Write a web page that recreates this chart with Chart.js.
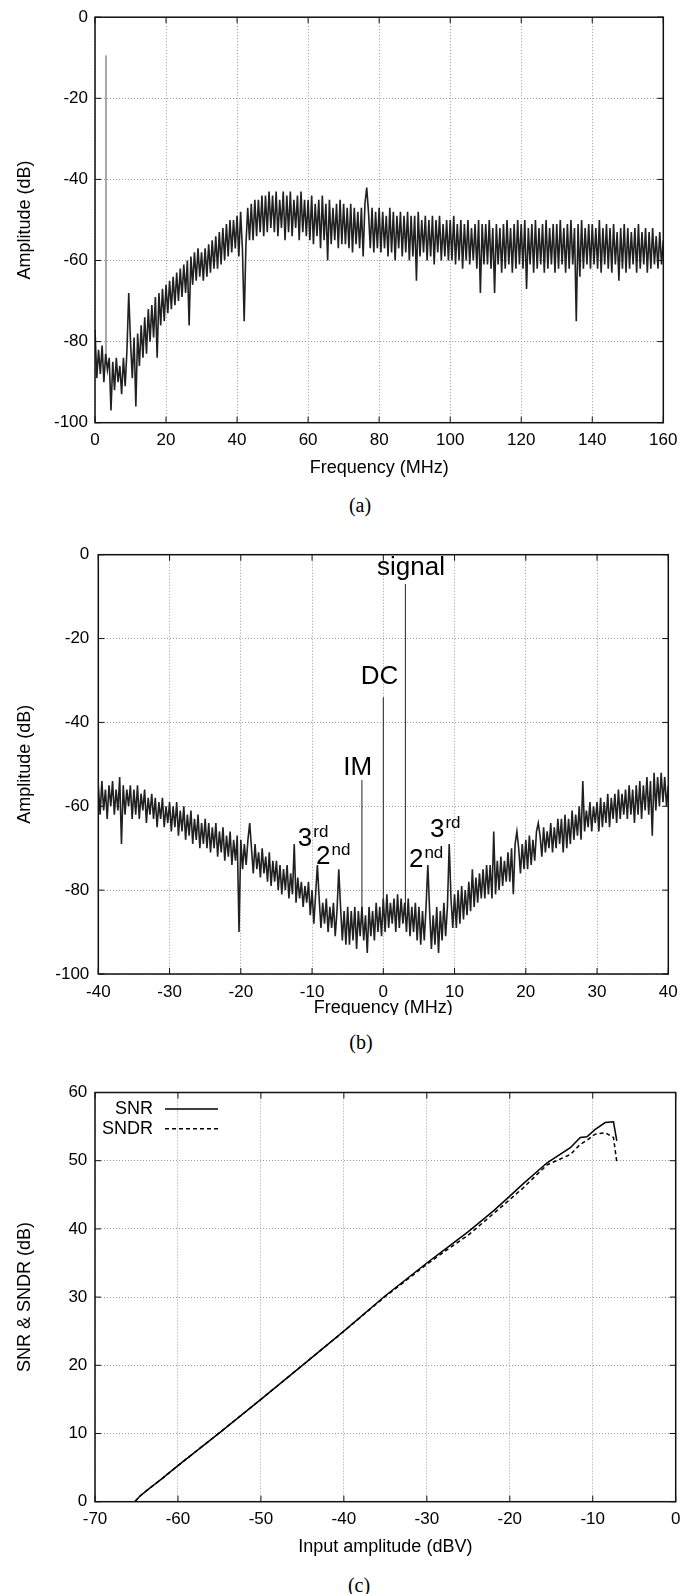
<!DOCTYPE html>
<html>
<head>
<meta charset="utf-8">
<script src="https://cdn.jsdelivr.net/npm/chart.js"></script>
<style>
  body { margin: 0; background: #fff; width: 700px; height: 1594px; position: relative; overflow: hidden; }
  .panel { position: absolute; left: 0; width: 700px; overflow: hidden; }
  .panel canvas { display: block; }
  .cap { position: absolute; font-family: "Liberation Serif", "Times New Roman", serif; font-size: 20px; line-height: 20px; color: #000; transform: translateX(-50%); }
</style>
</head>
<body>
<div class="panel" style="top:0;height:482px"><canvas id="chartA" width="700" height="482"></canvas></div>
<div class="cap" style="left:360px;top:495px">(a)</div>
<div class="panel" style="top:510px;height:505px"><canvas id="chartB" width="700" height="530"></canvas></div>
<div class="cap" style="left:361px;top:1032px">(b)</div>
<div class="panel" style="top:1055px;height:510px"><canvas id="chartC" width="700" height="510"></canvas></div>
<div class="cap" style="left:359px;top:1575px">(c)</div>
<script>
// (a) output spectrum 0-160 MHz, one reading every 0.5 MHz
const specAStart = 0;
const specAStep = 0.5;
const specA = [
  -77, -89, -82, -88, -81, -90, -83, -87, -84, -97, -85, -92, -84, -90, -86, -93, -84, -91, -82, -68,
  -80, -89, -79, -96, -78, -86, -76, -84, -74, -83, -72, -80, -71, -79, -69, -84, -68, -76, -67, -75,
  -66, -73, -65, -72, -64, -71, -63, -70, -62, -69, -61, -68, -60, -76, -59, -66, -58, -65, -57, -64,
  -58, -65, -57, -64, -56, -63, -55, -62, -54, -62, -53, -61, -52, -60, -51, -59, -50, -58, -50, -57,
  -49, -59, -48, -57, -75, -56, -47, -55, -46, -55, -45, -54, -45, -53, -44, -54, -44, -53, -43, -52,
  -44, -53, -43, -54, -45, -52, -43, -55, -44, -53, -43, -54, -45, -52, -44, -55, -43, -53, -45, -54,
  -45, -55, -44, -56, -46, -54, -45, -57, -44, -55, -46, -60, -45, -56, -47, -55, -46, -57, -45, -56,
  -46, -56, -47, -57, -46, -58, -47, -56, -48, -57, -47, -59, -46, -42, -48, -57, -47, -58, -48, -57,
  -47, -58, -48, -57, -49, -59, -47, -58, -48, -60, -49, -57, -48, -59, -49, -58, -48, -60, -49, -59,
  -49, -65, -48, -59, -50, -58, -49, -60, -50, -59, -49, -61, -50, -58, -49, -60, -51, -59, -50, -60,
  -50, -60, -49, -61, -51, -60, -50, -62, -51, -60, -50, -61, -52, -60, -51, -62, -50, -68, -51, -61,
  -51, -61, -50, -62, -52, -68, -51, -61, -52, -63, -51, -62, -50, -61, -52, -63, -51, -62, -50, -61,
  -51, -62, -50, -67, -52, -61, -51, -63, -50, -62, -52, -61, -51, -63, -50, -62, -52, -61, -51, -63,
  -51, -62, -50, -61, -52, -63, -51, -62, -50, -61, -52, -75, -51, -64, -50, -62, -52, -61, -51, -62,
  -51, -61, -52, -62, -50, -63, -52, -61, -51, -62, -52, -63, -51, -61, -53, -65, -52, -62, -51, -63,
  -52, -62, -53, -61, -52, -63, -51, -62, -53, -61, -52, -63, -53, -62, -52, -61, -54, -62, -53, -61,
  -55
];
const toneAFreq = [3.1];
const toneAPeak = [-9.4];
const toneABase = [-85];

// (b) two-tone spectrum -40..40 MHz, one reading every 0.25 MHz
const specBStart = -40;
const specBStep = 0.25;
const specB = [
  -55, -62, -54, -61, -56, -63, -55, -60, -54, -62, -56, -61, -53, -69, -55, -62, -56, -60, -55, -63,
  -56, -62, -55, -63, -57, -61, -56, -64, -58, -62, -57, -63, -58, -65, -59, -63, -58, -65, -60, -64,
  -59, -66, -60, -65, -59, -67, -61, -66, -60, -68, -62, -67, -61, -69, -63, -68, -62, -70, -64, -69,
  -63, -70, -64, -71, -65, -70, -64, -72, -66, -71, -65, -73, -67, -72, -66, -74, -68, -73, -67, -90,
  -68, -75, -69, -74, -68, -64, -70, -76, -69, -75, -71, -77, -70, -76, -72, -78, -71, -79, -73, -78,
  -73, -80, -74, -81, -75, -80, -74, -82, -76, -81, -69, -83, -77, -82, -78, -84, -79, -83, -78, -86,
  -80, -88, -81, -74, -82, -89, -83, -88, -82, -90, -84, -89, -83, -91, -85, -75, -84, -92, -85, -93,
  -84, -93, -85, -92, -84, -94, -85, -91, -84, -92, -86, -95, -84, -91, -85, -92, -83, -90, -84, -91,
  -82, -90, -81, -89, -83, -88, -82, -90, -81, -89, -82, -88, -83, -90, -82, -91, -84, -90, -83, -92,
  -84, -93, -85, -92, -84, -74, -85, -94, -86, -93, -84, -95, -85, -92, -83, -91, -84, -69, -82, -89,
  -81, -89, -80, -88, -79, -87, -80, -86, -78, -85, -75, -84, -77, -83, -76, -82, -75, -82, -74, -81,
  -74, -82, -66, -81, -73, -80, -72, -79, -73, -78, -71, -78, -70, -81, -69, -66, -70, -76, -69, -75,
  -68, -75, -67, -74, -68, -73, -66, -64, -67, -72, -65, -71, -66, -70, -64, -71, -65, -70, -63, -69,
  -63, -71, -62, -70, -63, -69, -61, -68, -62, -67, -60, -68, -54, -66, -61, -65, -59, -66, -60, -64,
  -59, -66, -58, -65, -59, -64, -57, -65, -58, -63, -57, -64, -56, -63, -57, -62, -56, -63, -55, -62,
  -56, -64, -55, -62, -54, -63, -55, -61, -53, -62, -54, -67, -52, -61, -53, -60, -52, -59, -53, -60,
  -55
];
const toneBFreq = [-3.0, 0, 3.1];
const toneBPeak = [-53.7, -34, -7];
const toneBBase = [-88, -85, -85];

// (c) SNR / SNDR against input amplitude
const inputLevel = [-65.2, -64.6, -63.7, -62, -60, -55, -50, -45, -40, -35, -30, -27.5, -25, -22, -20, -18.4, -15.5, -12.7, -11.5, -10.7, -9.7, -8.5, -7.5, -7.1];
const snrValues = [0, 0.8, 1.7, 3.3, 5.3, 10.1, 15.0, 20.0, 25.0, 30.2, 35.0, 37.3, 39.6, 42.6, 44.8, 46.6, 49.7, 51.9, 53.4, 53.5, 54.6, 55.6, 55.7, 52.9];
const sndrValues = [0, 0.8, 1.7, 3.3, 5.3, 10.1, 15.0, 20.0, 25.0, 30.1, 34.8, 37.0, 39.1, 42.2, 44.3, 46.0, 49.4, 50.9, 52.4, 53.0, 53.9, 54.1, 53.4, 49.8];

Chart.defaults.font.family = '"Liberation Sans", Arial, Helvetica, sans-serif';
Chart.defaults.color = '#000';

function spectrumPoints(start, step, values) {
  return values.map((v, i) => ({ x: start + i * step, y: v }));
}

function tonePoints(freqs, peaks, bases) {
  const pts = [];
  freqs.forEach((f, i) => {
    pts.push({ x: f, y: bases[i] }, { x: f, y: peaks[i] }, { x: f, y: null });
  });
  return pts;
}

// gnuplot style: frame + inward ticks on all four sides
const framePlugin = {
  id: 'frame',
  afterDatasetsDraw(chart) {
    const { ctx, chartArea: a, scales: { x, y } } = chart;
    ctx.save();
    ctx.strokeStyle = '#111';
    ctx.lineWidth = 1;
    ctx.beginPath();
    x.ticks.forEach(t => {
      const px = x.getPixelForValue(t.value);
      ctx.moveTo(px, a.bottom); ctx.lineTo(px, a.bottom - 6);
      ctx.moveTo(px, a.top); ctx.lineTo(px, a.top + 6);
    });
    y.ticks.forEach(t => {
      const py = y.getPixelForValue(t.value);
      ctx.moveTo(a.left, py); ctx.lineTo(a.left + 6, py);
      ctx.moveTo(a.right, py); ctx.lineTo(a.right - 6, py);
    });
    ctx.stroke();
    ctx.lineWidth = 1.5;
    ctx.strokeRect(a.left, a.top, a.right - a.left, a.bottom - a.top);
    ctx.restore();
  }
};

function xAxis(min, max, step, title, labelPad, titlePad, height) {
  return {
    type: 'linear', min: min, max: max,
    ticks: { stepSize: step, padding: labelPad, font: { size: 17 }, color: '#000', maxRotation: 0, autoSkip: false },
    grid: { color: '#9a9a9a', lineWidth: 1, drawTicks: false },
    border: { display: false, dash: [1, 2] },
    title: { display: true, text: title, font: { size: 18 }, color: '#000', padding: { top: 0, bottom: titlePad } },
    afterFit(scale) { scale.height = height; }
  };
}

function yAxis(min, max, step, title, labelPad, titlePad, width) {
  return {
    type: 'linear', min: min, max: max,
    ticks: { stepSize: step, padding: labelPad, font: { size: 17 }, color: '#000', autoSkip: false },
    grid: { color: '#9a9a9a', lineWidth: 1, drawTicks: false },
    border: { display: false, dash: [1, 2] },
    title: { display: true, text: title, font: { size: 18 }, color: '#000', padding: { top: titlePad, bottom: 0 } },
    afterFit(scale) { scale.width = width; }
  };
}

const baseOpts = {
  responsive: false,
  animation: false,
  devicePixelRatio: 1,
  events: [],
  plugins: { legend: { display: false }, tooltip: { enabled: false } },
  elements: { point: { radius: 0 }, line: { tension: 0 } }
};

// (a)
new Chart(document.getElementById('chartA'), {
  type: 'line',
  data: {
    datasets: [
      { data: spectrumPoints(specAStart, specAStep, specA), borderColor: '#202020', borderWidth: 1.6, fill: false },
      { data: tonePoints(toneAFreq, toneAPeak, toneABase), borderColor: '#555', borderWidth: 1, fill: false, spanGaps: false }
    ]
  },
  options: Object.assign({}, baseOpts, {
    layout: { padding: { left: 0, right: 36.7, top: 13.3, bottom: 0 } },
    scales: {
      x: xAxis(0, 160, 20, 'Frequency (MHz)', 7, 3.2, 59.3),
      y: yAxis(-100, 0, 20, 'Amplitude (dB)', 7, 14.2, 95)
    }
  }),
  plugins: [framePlugin]
});

// (b) labels for the tones
const labelsB = [
  { text: 'signal', f: -0.88, db: -4.96 },
  { text: 'DC', f: -3.17, db: -30.86 },
  { text: 'IM', f: -5.61, db: -52.43 },
  { text: '3', sup: 'rd', f: -12.0, db: -69.5 },
  { text: '2', sup: 'nd', f: -9.45, db: -73.8 },
  { text: '3', sup: 'rd', f: 6.55, db: -67.4 },
  { text: '2', sup: 'nd', f: 3.6, db: -74.6 }
];

const toneLabelPlugin = {
  id: 'toneLabels',
  afterDatasetsDraw(chart) {
    const { ctx, scales: { x, y } } = chart;
    ctx.save();
    ctx.fillStyle = '#000';
    ctx.textAlign = 'left';
    ctx.textBaseline = 'alphabetic';
    labelsB.forEach(l => {
      const px = x.getPixelForValue(l.f);
      const py = y.getPixelForValue(l.db);
      ctx.font = '26px "Liberation Sans", Arial, sans-serif';
      ctx.fillText(l.text, px, py);
      if (l.sup) {
        const w = ctx.measureText(l.text).width;
        ctx.font = '17px "Liberation Sans", Arial, sans-serif';
        ctx.fillText(l.sup, px + w + 1, py - 9.5);
      }
    });
    ctx.restore();
  }
};

new Chart(document.getElementById('chartB'), {
  type: 'line',
  data: {
    datasets: [
      { data: spectrumPoints(specBStart, specBStep, specB), borderColor: '#202020', borderWidth: 1.6, fill: false },
      { data: tonePoints(toneBFreq, toneBPeak, toneBBase), borderColor: '#222', borderWidth: 1, fill: false, spanGaps: false }
    ]
  },
  options: Object.assign({}, baseOpts, {
    layout: { padding: { left: 0, right: 31.7, top: 44.7, bottom: 0 } },
    scales: {
      x: xAxis(-40, 40, 10, 'Frequency (MHz)', 8, 21, 66),
      y: yAxis(-100, 0, 20, 'Amplitude (dB)', 9, 14.7, 98.3)
    }
  }),
  plugins: [framePlugin, toneLabelPlugin]
});

// (c) legend drawn gnuplot-like: label right-aligned, sample line after it
const legendPlugin = {
  id: 'keyBox',
  afterDatasetsDraw(chart) {
    const { ctx, chartArea: a } = chart;
    ctx.save();
    ctx.font = '18px "Liberation Sans", Arial, sans-serif';
    ctx.fillStyle = '#000';
    ctx.textAlign = 'right';
    ctx.textBaseline = 'middle';
    chart.data.datasets.forEach((ds, i) => {
      const yy = a.top + 16.5 + i * 19.7;
      ctx.fillText(ds.label, a.left + 58, yy);
      ctx.strokeStyle = ds.borderColor;
      ctx.lineWidth = ds.borderWidth;
      ctx.setLineDash(ds.borderDash || []);
      ctx.beginPath();
      ctx.moveTo(a.left + 70, yy);
      ctx.lineTo(a.left + 123, yy);
      ctx.stroke();
    });
    ctx.restore();
  }
};

new Chart(document.getElementById('chartC'), {
  type: 'line',
  data: {
    datasets: [
      { label: 'SNR', data: inputLevel.map((v, i) => ({ x: v, y: snrValues[i] })), borderColor: '#000', borderWidth: 1.5, fill: false },
      { label: 'SNDR', data: inputLevel.map((v, i) => ({ x: v, y: sndrValues[i] })), borderColor: '#000', borderWidth: 1.5, borderDash: [4, 3], fill: false }
    ]
  },
  options: Object.assign({}, baseOpts, {
    layout: { padding: { left: 0, right: 24.3, top: 37.5, bottom: 0 } },
    scales: {
      x: xAxis(-70, 0, 10, 'Input amplitude (dBV)', 7.5, 6.9, 63.3),
      y: yAxis(0, 60, 10, 'SNR & SNDR (dB)', 7.7, 14.7, 95)
    }
  }),
  plugins: [framePlugin, legendPlugin]
});
</script>
</body>
</html>
